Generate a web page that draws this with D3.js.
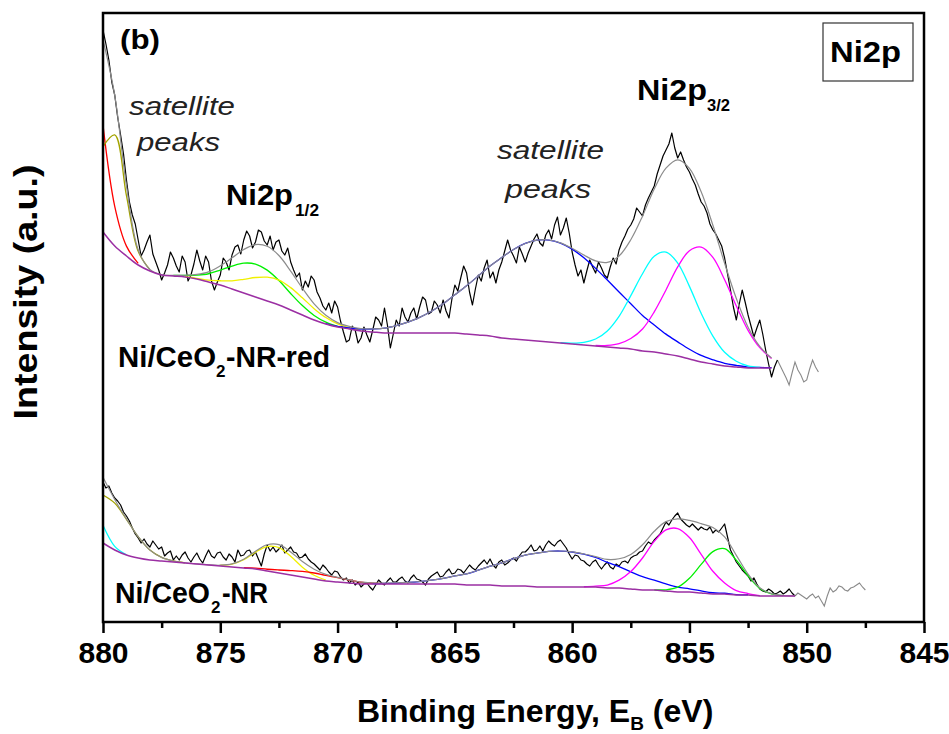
<!DOCTYPE html>
<html>
<head>
<meta charset="utf-8">
<script src="https://cdn.jsdelivr.net/npm/d3@7/dist/d3.min.js"></script>
<style>
  body { margin: 0; background: #fff; }
  svg { display: block; }
  text { font-family: "Liberation Sans", Arial, Helvetica, sans-serif; }
</style>
</head>
<body>
<svg id="chart" width="949" height="734"></svg>
<script>
// raw spectra, binding energy from 880 eV down in 0.125 eV steps (a.u., already offset)
const rawStart = 880, rawStep = 0.125;
const redRaw = [
  592,578,562,540,527,505,487,468,442,420,
  407,398,382,366,372,380,387,368,360,352,
  342,349,357,370,364,356,350,366,360,341,
  347,358,372,361,352,366,360,341,332,340,
  347,364,360,352,367,375,377,368,382,391,
  386,374,380,392,390,381,377,386,372,380,
  382,371,367,374,360,352,345,349,332,341,
  335,346,342,330,324,316,312,319,309,321,
  315,301,290,280,282,296,292,279,284,295,
  287,280,292,305,302,296,314,297,274,288,
  302,296,314,305,300,309,314,303,315,325,
  322,308,310,321,317,309,322,311,304,323,
  337,331,344,356,349,330,317,333,347,341,
  354,362,344,350,339,352,360,371,382,372,
  366,359,375,368,360,369,376,383,388,379,
  376,387,392,383,397,405,387,394,404,389,
  370,357,346,352,339,351,362,355,349,360,
  354,347,344,355,364,358,372,380,386,393,
  397,403,414,410,406,417,424,430,436,448,
  457,466,472,478,489,474,464,470,462,455,
  450,443,437,428,420,416,409,398,392,388,
  382,376,364,348,332,315,302,318,332,320,
  307,296,285,294,302,288,272,258,245,255,
  262,256,250,244,237,249,260,252,247,240,
  242,253,262,255,250
];
const nrRaw = [
  140,134,136,129,124,121,117,110,106,101,
  94,88,84,79,83,78,75,81,77,73,
  75,66,69,71,62,66,62,67,70,64,
  60,65,69,63,59,66,72,66,64,69,
  70,65,62,68,65,60,72,66,67,71,
  72,66,70,63,56,68,77,71,75,70,
  73,77,69,72,75,70,69,64,65,68,
  63,60,58,55,52,57,54,50,47,51,
  50,45,42,44,39,42,37,40,35,38,
  39,35,32,37,42,39,37,41,44,40,
  40,43,45,41,39,44,47,43,42,40,
  37,43,46,48,50,45,46,50,53,48,
  49,53,52,49,53,57,54,52,56,59,
  62,58,63,57,54,60,62,57,59,62,
  64,61,66,70,70,73,77,71,72,76,
  71,77,81,78,76,80,82,78,74,68,
  63,67,66,62,61,58,56,60,62,57,
  53,57,60,55,53,58,56,60,61,59,
  64,66,67,70,71,76,80,78,82,85,
  88,94,100,97,102,106,109,103,100,97,
  95,98,95,92,95,93,92,95,89,92,
  90,94,98,85,72,66,60,56,52,49,
  46,41,44,38,33,31,30,33,31,28,
  29,31,28,30,33,29,26,29,27,25,
  23,26,28,24,26,21,16,26,34,30,
  32,36,35,32,31,34,35,37,39,35,
  32
];
// low energy end of the fitted window (data beyond it is grey)
const redFitEnd = 851.25, nrFitEnd = 850.5;

// backgrounds, 0.5 eV steps from 880 eV
const bgStep = 0.5;
const redBg = [
  390,376,366,357,351,347,346,345,343,340,
  337,333,329,325,321,317,312,307,302,298,
  295,293,291,290,289,289,289,289,289,289,
  289,288,287,286,284,283,282,281,280,279,
  278,277,276,275,274,273,271,270,268,266,
  263,260,258,256,255,254,254,254
];
const nrBg = [
  79,72,67,64,62,61,60,59,58,57,
  56,55,54,53,51,49,47,45,43,41,
  40,39,38,38,38,38,38,38,38,38,
  38,37,37,37,36,36,36,35,35,35,
  35,35,35,34,34,33,32,32,31,30,
  30,29,28,28,27,27,26,26,26,26
];

// fitted components (centre eV, height a.u., FWHM eV)
const redPeakCentre = [881.0, 879.6, 873.45, 872.6, 861.07, 856.05, 854.53];
const redPeakHeight = [236, 113, 33, 25, 102, 102, 115];
const redPeakFwhm   = [1.87, 1.26, 2.9, 3.0, 6.6, 3.0, 3.2];
const nrPeakCentre  = [880.5, 879.8, 872.7, 871.0, 860.6, 855.65, 853.65];
const nrPeakHeight  = [30, 49, 26, 6, 36, 64, 46];
const nrPeakFwhm    = [1.15, 2.37, 2.03, 3.0, 6.0, 2.7, 2.05];

const majorTicks = [880, 875, 870, 865, 860, 855, 850, 845];
const minorTicks = [877.5, 872.5, 867.5, 862.5, 857.5, 852.5, 847.5];

// colours of the components, same order as above
const redPeakColour = ["#ff0000", "#a3a300", "#00f000", "#f0f000", "#0000ff", "#00ffff", "#ff00ff"];
const nrPeakColour  = ["#00ffff", "#a3a300", "#f0f000", "#ff0000", "#0000ff", "#ff00ff", "#00f000"];
const bgColour = "#9b2fa3";

const W = 949, H = 734;
const margin = {top: 13, right: 25, bottom: 112, left: 103};
const svg = d3.select("#chart");

const x = d3.scaleLinear().domain([880, 845]).range([margin.left, W - margin.right]);
const y = d3.scaleLinear().domain([0, 609]).range([H - margin.bottom, margin.top]);

const smooth = d3.line().x(d => x(d[0])).y(d => y(d[1])).curve(d3.curveCatmullRom.alpha(0.5));
const jag = d3.line().x(d => x(d[0])).y(d => y(d[1]));

function gauss(e, c, h, w) {
  return h * Math.exp(-4 * Math.LN2 * (e - c) * (e - c) / (w * w));
}

svg.append("defs").append("clipPath").attr("id", "plot")
  .append("rect").attr("x", margin.left).attr("y", margin.top)
  .attr("width", W - margin.left - margin.right).attr("height", H - margin.top - margin.bottom);
const plotG = svg.append("g").attr("clip-path", "url(#plot)");

function drawSpectrum(raw, fitEnd, bg, cen, hgt, fw, cols) {
  const g = plotG.append("g");
  const pts = raw.map((v, i) => [rawStart - i * rawStep, v]);
  const fitPts = pts.filter(p => p[0] >= fitEnd);
  const tailPts = pts.filter(p => p[0] <= fitEnd);

  const bgPts = bg.map((v, i) => [rawStart - i * bgStep, v]);
  const env = bgPts.map(p => [p[0], p[1] + d3.sum(cen, (c, k) => gauss(p[0], c, hgt[k], fw[k]))]);

  g.append("path").attr("d", jag(tailPts))
    .attr("fill", "none").attr("stroke", "#8a8a8a").attr("stroke-width", 1.1);
  g.append("path").attr("d", jag(fitPts))
    .attr("fill", "none").attr("stroke", "#000").attr("stroke-width", 1.2)
    .attr("stroke-linejoin", "round");

  // components sit under the envelope, the baseline goes on top
  cen.forEach((c, k) => {
    const comp = bgPts.map(p => [p[0], gauss(p[0], c, hgt[k], fw[k]), p[1]]);
    const shown = comp.filter(d => d[1] > 0.2).map(d => [d[0], d[1] + d[2]]);
    g.append("path").attr("d", smooth(shown))
      .attr("fill", "none").attr("stroke", cols[k]).attr("stroke-width", 1.3);
  });

  g.append("path").attr("d", smooth(env))
    .attr("fill", "none").attr("stroke", "#8c8c8c").attr("stroke-width", 1.2);

  g.append("path").attr("d", smooth(bgPts))
    .attr("fill", "none").attr("stroke", bgColour).attr("stroke-width", 1.5);
}

drawSpectrum(redRaw, redFitEnd, redBg, redPeakCentre, redPeakHeight, redPeakFwhm, redPeakColour);
drawSpectrum(nrRaw, nrFitEnd, nrBg, nrPeakCentre, nrPeakHeight, nrPeakFwhm, nrPeakColour);

// axis
const axisY = H - margin.bottom;
const ax = svg.append("g").attr("transform", `translate(0,${axisY})`)
  .call(d3.axisBottom(x).tickValues(majorTicks).tickSize(11).tickPadding(9).tickSizeOuter(0)
    .tickFormat(d3.format("d")));
ax.select(".domain").remove();
ax.selectAll("line").attr("stroke-width", 2.5);
ax.selectAll("text").attr("font-size", 30).attr("font-weight", "bold").attr("fill", "#000");
const axm = svg.append("g").attr("transform", `translate(0,${axisY})`)
  .call(d3.axisBottom(x).tickValues(minorTicks).tickSize(6).tickFormat(""));
axm.select(".domain").remove();
axm.selectAll("line").attr("stroke-width", 2.5);

// frame
svg.append("rect").attr("x", margin.left).attr("y", margin.top)
  .attr("width", W - margin.left - margin.right).attr("height", H - margin.top - margin.bottom)
  .attr("fill", "none").attr("stroke", "#000").attr("stroke-width", 2.5);

// text helper: text stretched to a given width
function txt(xp, yp, size, str, len, opts = {}) {
  const t = svg.append("text").attr("x", xp).attr("y", yp).attr("font-size", size)
    .attr("font-weight", opts.italic ? "normal" : "bold")
    .attr("font-style", opts.italic ? "italic" : "normal")
    .attr("fill", opts.fill || "#000").text(str);
  if (len) t.attr("textLength", len).attr("lengthAdjust", "spacingAndGlyphs");
  if (opts.anchor) t.attr("text-anchor", opts.anchor);
  return t;
}

// axis titles
const xt = svg.append("text").attr("x", 357).attr("y", 722)
  .attr("font-size", 32).attr("font-weight", "bold");
xt.append("tspan").text("Binding Energy, E");
xt.append("tspan").attr("font-size", 19).attr("dy", 8).text("B");
xt.append("tspan").attr("dy", -8).text(" (eV)");

txt(0, 0, 33, "Intensity (a.u.)", 255, {anchor: "middle"})
  .attr("x", null).attr("y", null)
  .attr("transform", "translate(37,292) rotate(-90)");

// labels
txt(120, 49, 28, "(b)", 40);
txt(226, 205, 30, "Ni2p", 67);
txt(295, 216, 17, "1/2", 24);
txt(637, 100, 30, "Ni2p", 70);
txt(707, 111, 17, "3/2", 23);
txt(118, 367, 29, "Ni/CeO", 98);
txt(216, 377, 17, "2");
txt(226, 367, 29, "-NR-red", 104);
txt(115, 603, 29, "Ni/CeO", 95);
txt(211, 613, 17, "2");
txt(222, 603, 29, "-NR", 46);

txt(129, 115, 25, "satellite", 106, {italic: true, fill: "#222"});
txt(137, 151, 25, "peaks", 83, {italic: true, fill: "#222"});
txt(497, 159, 25, "satellite", 107, {italic: true, fill: "#222"});
txt(505, 198, 25, "peaks", 86, {italic: true, fill: "#222"});

svg.append("rect").attr("x", 823).attr("y", 23).attr("width", 90).attr("height", 58)
  .attr("fill", "#fff").attr("stroke", "#333").attr("stroke-width", 1.2);
txt(830, 62, 30, "Ni2p", 71);
</script>
</body>
</html>
